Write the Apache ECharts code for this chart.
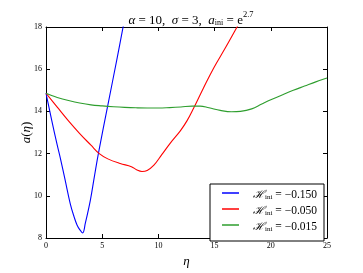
<!DOCTYPE html>
<html><head><meta charset="utf-8">
<script src="https://cdn.jsdelivr.net/npm/echarts@6/dist/echarts.min.js"></script>
<style>html,body{margin:0;padding:0;background:#fff}#c{width:363px;height:273px}</style>
</head><body><div id="c"></div>
<script>
const xTicks = [0, 5, 10, 15, 20, 25];
const yTicks = [8, 10, 12, 14, 16, 18];
const seriesNames = ['-0.150', '-0.050', '-0.015'];
const blue = [[0,14.86],[0.5,13.6],[1.0,12.4],[1.27,11.8],[1.7,10.75],[2.16,9.62],[2.5,9.0],[2.76,8.62],[3.0,8.4],[3.26,8.24],[3.5,8.7],[3.94,9.77],[4.3,10.9],[4.68,12.06],[5.48,14.24],[6.32,16.5],[7.0,18.4]];
const red = [[0,14.86],[1,14.2],[2,13.55],[3,12.95],[4,12.4],[4.74,12.0],[5.5,11.75],[6.6,11.53],[7.6,11.38],[8.1,11.22],[8.54,11.15],[9.0,11.2],[9.6,11.45],[10.3,11.95],[11.06,12.5],[11.95,13.08],[12.54,13.55],[13.13,14.15],[14,15.1],[14.91,16.05],[16,17.05],[17.1,18.1]];
const green = [[0,14.86],[0.5,14.75],[1,14.66],[2,14.52],[3,14.4],[4,14.31],[5,14.26],[6,14.22],[7,14.19],[8,14.17],[9,14.16],[10,14.16],[11,14.18],[12,14.21],[13,14.25],[13.7,14.25],[14.5,14.17],[15.5,14.05],[16.5,13.98],[17.3,14.0],[18.3,14.12],[19.2,14.35],[20,14.55],[21,14.78],[22,15.0],[23,15.2],[24,15.4],[25,15.58]];
const colors = ['#0000ff', '#ff0000', '#2e9e2e'];
const F = 'Liberation Serif';
const chart = echarts.init(document.getElementById('c'), null, {renderer: 'canvas'});
const grid = {left: 46, right: 36, top: 27, bottom: 28};
const tickStyle = {fontFamily: F, fontSize: 8, color: '#000'};
function legendFmt(name) {
  return '{h|ℋ}{s|ini}{t| = −' + name.slice(1) + '}';
}
chart.setOption({
  animation: false,
  title: {
    text: '{i|α}{t| = 10,  }{i|σ}{t| = 3,  }{i|a}{s|ini}{t| = e}{p|2.7}',
    left: 186, top: 5, textAlign: 'center',
    textStyle: {
      fontWeight: 'normal',
      rich: {
        i: {fontFamily: F, fontStyle: 'italic', fontWeight: 'normal', fontSize: 13, color: '#000', verticalAlign: 'bottom', lineHeight: 17},
        t: {fontFamily: F, fontWeight: 'normal', fontSize: 13, color: '#000', verticalAlign: 'bottom', lineHeight: 17},
        s: {fontFamily: F, fontWeight: 'normal', fontSize: 8, color: '#000', verticalAlign: 'bottom', lineHeight: 13},
        p: {fontFamily: F, fontWeight: 'normal', fontSize: 8.5, color: '#000', verticalAlign: 'top', lineHeight: 17}
      }
    }
  },
  grid: grid,
  legend: {
    data: seriesNames,
    orient: 'vertical',
    right: 39, top: 184,
    icon: 'rect', itemWidth: 17, itemHeight: 1.5, itemGap: 4,
    padding: [5, 7, 8, 12],
    backgroundColor: '#fff', borderColor: '#000', borderWidth: 1, borderRadius: 0,
    formatter: legendFmt,
    textStyle: {
      padding: [0, 0, 0, 9],
      rich: {
        h: {fontFamily: 'DejaVu Serif', fontStyle: 'italic', fontSize: 11, color: '#000', verticalAlign: 'bottom', lineHeight: 16},
        s: {fontFamily: F, fontSize: 7, color: '#000', verticalAlign: 'bottom', lineHeight: 12},
        t: {fontFamily: F, fontSize: 11.5, color: '#000', verticalAlign: 'bottom', lineHeight: 16}
      }
    }
  },
  xAxis: [{
    type: 'value', min: 0, max: 25, interval: 5,
    name: 'η', nameLocation: 'middle', nameGap: 17,
    nameTextStyle: {fontFamily: F, fontStyle: 'italic', fontSize: 13, color: '#000'},
    axisLine: {onZero: false, lineStyle: {color: '#000', width: 1}},
    axisTick: {inside: true, length: 4, lineStyle: {color: '#000'}},
    axisLabel: Object.assign({margin: 4, formatter: v => xTicks.includes(v) ? String(v) : ''}, tickStyle),
    splitLine: {show: false}
  }, {
    type: 'value', position: 'top', min: 0, max: 25, interval: 5,
    axisLine: {onZero: false, lineStyle: {color: '#000', width: 1}},
    axisTick: {inside: true, length: 4, lineStyle: {color: '#000'}},
    axisLabel: {show: false}, splitLine: {show: false}
  }],
  yAxis: [{
    type: 'value', min: 8, max: 18, interval: 2,
    name: '{i|a}{t|(}{i|η}{t|)}', nameLocation: 'middle', nameGap: 13, nameRotate: 90,
    nameMoveOverlap: false,
    nameTextStyle: {rich: {
      i: {fontFamily: F, fontStyle: 'italic', fontSize: 13, color: '#000'},
      t: {fontFamily: F, fontSize: 13, color: '#000'}
    }},
    axisLine: {onZero: false, lineStyle: {color: '#000', width: 1}},
    axisTick: {inside: true, length: 4, lineStyle: {color: '#000'}},
    axisLabel: Object.assign({margin: 4, formatter: v => yTicks.includes(v) ? String(v) : ''}, tickStyle),
    splitLine: {show: false}
  }, {
    type: 'value', position: 'right', min: 8, max: 18, interval: 2,
    axisLine: {onZero: false, lineStyle: {color: '#000', width: 1}},
    axisTick: {inside: true, length: 4, lineStyle: {color: '#000'}},
    axisLabel: {show: false}, splitLine: {show: false}
  }],
  series: [blue, red, green].map((d, i) => ({
    name: seriesNames[i], type: 'line', data: d,
    showSymbol: false, symbol: 'none', smooth: 0.4,
    clip: true,
    lineStyle: {color: colors[i], width: 1.1},
    itemStyle: {color: colors[i]}
  }))
});
</script></body></html>
